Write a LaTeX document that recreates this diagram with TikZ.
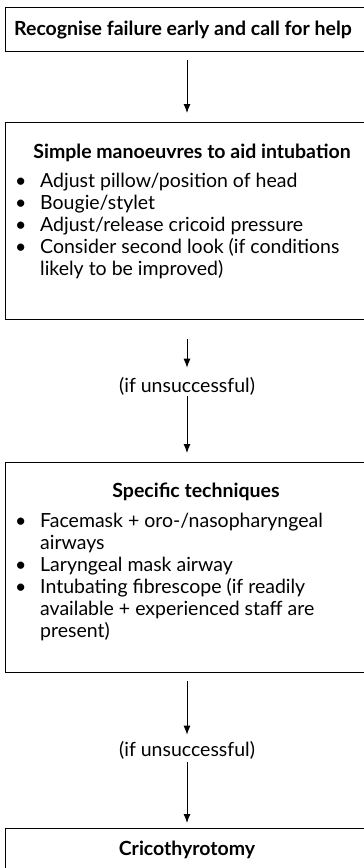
\documentclass[tikz,border=0pt]{standalone}
\usepackage{fontspec}
\setmainfont{Lato}
\usetikzlibrary{arrows.meta}

\tikzset{
  stagebox/.style={draw, line width=1pt, minimum width=363pt, inner sep=0pt},
  headtext/.style={font=\fontsize{19.5}{22}\selectfont\bfseries, inner sep=0pt, anchor=base},
  listtext/.style={font=\fontsize{19.5}{22}\selectfont, inner sep=0pt, anchor=base west},
  notetext/.style={font=\fontsize{19.5}{22}\selectfont, inner sep=0pt, anchor=base},
  flow/.style={->, line width=1pt},
}
\newcommand{\blt}{\textbullet}

\begin{document}
\begin{tikzpicture}[x=1pt,y=-1pt,>={Latex[length=9pt,width=7pt]}]
			\useasboundingbox (0,0) rectangle (364,868);
			\clip (0,0) rectangle (364,868);
			%%%	Boxes
			\node[stagebox, anchor=north west, minimum height=44pt] (recog) at (5,7) {};
			\node[stagebox, anchor=north west, minimum height=197pt] (simple) at (5,122) {};
			\node[stagebox, anchor=north west, minimum height=210pt] (specific) at (5,462) {};
			\node[stagebox, anchor=north west, minimum height=46pt] (crico) at (5,828) {};
			%%%	Titles
			\node[headtext] (recogtxt) at (183,35) {Recognise failure early and call for help};
			\node[headtext] (simpletxt) at (192,158) {Simple manoeuvres to aid intubation};
			\node[headtext] (specifictxt) at (196,497) {Specific techniques};
			\node[headtext] (cricotxt) at (187,855) {Cricothyrotomy};
			%%%	Lists
			\node[listtext] (simplelist) at (15,187) {\begin{tabular}[t]{@{}p{25pt}@{}l@{}}
				\blt & Adjust pillow/position of head\\
				\blt & Bougie/stylet\\
				\blt & Adjust/release cricoid pressure\\
				\blt & Consider second look (if conditions\\
				     & likely to be improved)
			\end{tabular}};
			\node[listtext] (specificlist) at (15,527) {\begin{tabular}[t]{@{}p{25pt}@{}l@{}}
				\blt & Facemask + oro-/nasopharyngeal\\
				     & airways\\
				\blt & Laryngeal mask airway\\
				\blt & Intubating fibrescope (if readily\\
				     & available + experienced staff are\\
				     & present)
			\end{tabular}};
			%%%	Notes
			\node[notetext] (fail1) at (187,392) {(if unsuccessful)};
			\node[notetext] (fail2) at (187,756) {(if unsuccessful)};
			%%%	Arrows
			\draw[flow, shorten <=8pt, shorten >=9pt] (recog.south) -- (simple.north);
			\draw[flow, shorten <=19pt, shorten >=9pt] (simple.south) -- (fail1.north);
			\draw[flow, shorten <=1pt, shorten >=9pt] (fail1.south) -- (specific.north);
			\draw[flow, shorten <=8pt, shorten >=6pt] (specific.south) -- (fail2.north);
			\draw[flow, shorten <=3pt, shorten >=5pt] (fail2.south) -- (crico.north);
\end{tikzpicture}
\end{document}
